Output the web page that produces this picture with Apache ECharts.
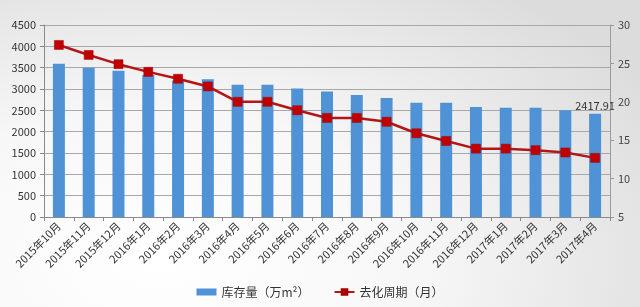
<!DOCTYPE html>
<html><head><meta charset="utf-8">
<script src="https://cdn.jsdelivr.net/npm/echarts@6/dist/echarts.min.js"></script>
<style>
html,body{margin:0;padding:0;}
#c{width:640px;height:307px;background:radial-gradient(ellipse 90% 110% at 25% 85%, #ffffff 0%, #f7f7f7 45%, #dcdcdc 100%);}
</style></head><body>
<div id="c"></div>
<script>
const categories = ['2015年10月','2015年11月','2015年12月','2016年1月','2016年2月','2016年3月','2016年4月','2016年5月','2016年6月','2016年7月','2016年8月','2016年9月','2016年10月','2016年11月','2016年12月','2017年1月','2017年2月','2017年3月','2017年4月'];
const inventory = [3590, 3500, 3430, 3330, 3200, 3230, 3100, 3100, 3010, 2940, 2860, 2790, 2680, 2680, 2580, 2560, 2560, 2500, 2417.91];
const cycle = [27.4, 26.1, 24.9, 23.9, 23.0, 22.0, 20.0, 20.0, 18.9, 17.9, 17.9, 17.4, 15.9, 14.9, 13.9, 13.9, 13.7, 13.4, 12.7];
const leftTicks = {min: 0, max: 4500, interval: 500};
const rightTicks = {min: 5, max: 30, interval: 5};
const seriesNames = ['库存量（万m²）', '去化周期（月）'];

const chart = echarts.init(document.getElementById('c'), null, {renderer: 'canvas'});
const font = '"Noto Sans CJK SC", "Noto Sans", sans-serif';
const lastIdx = inventory.length - 1;
chart.setOption({
  backgroundColor: 'transparent',
  textStyle: {fontFamily: font},
  grid: {left: 44, right: 30, top: 25, bottom: 90, containLabel: false},
  legend: {
    bottom: 4, left: 'center', itemGap: 24, itemWidth: 20, itemHeight: 7,
    textStyle: {color: '#333', fontSize: 12, fontFamily: font},
    data: [{name: seriesNames[0], icon: 'rect'}, {name: seriesNames[1]}]
  },
  xAxis: {
    type: 'category', data: categories, boundaryGap: true,
    axisLine: {lineStyle: {color: '#8a8a8a'}},
    axisTick: {show: true, alignWithLabel: false, lineStyle: {color: '#8a8a8a'}, length: 4},
    axisLabel: {rotate: 45, interval: 0, fontSize: 11, color: '#333', margin: 7, fontFamily: font}
  },
  yAxis: [{
    type: 'value', min: leftTicks.min, max: leftTicks.max, interval: leftTicks.interval,
    axisLine: {show: true, lineStyle: {color: '#8a8a8a'}},
    axisTick: {show: true, length: 4, lineStyle: {color: '#8a8a8a'}},
    axisLabel: {fontSize: 11, color: '#333', margin: 8, formatter: v => String(v)},
    splitLine: {show: true, lineStyle: {color: '#a8a8a8', width: 1}}
  }, {
    type: 'value', min: rightTicks.min, max: rightTicks.max, interval: rightTicks.interval,
    position: 'right',
    axisLine: {show: true, lineStyle: {color: '#9a9a9a'}},
    axisTick: {show: true, length: 4, lineStyle: {color: '#9a9a9a'}},
    axisLabel: {fontSize: 11, color: '#444', margin: 8, formatter: v => String(v)},
    splitLine: {show: false}
  }],
  series: [{
    name: seriesNames[0], type: 'bar', yAxisIndex: 0, data: inventory.map((v, i) => i === lastIdx ? {value: v, label: {show: true, position: 'top', distance: 3, color: '#333', fontSize: 11, formatter: '{c}'}} : v),
    barWidth: 12,
    itemStyle: {color: '#4f93d6'},
    z: 2
  }, {
    name: seriesNames[1], type: 'line', yAxisIndex: 1, data: cycle,
    symbol: 'rect', symbolSize: 9,
    lineStyle: {color: '#b31616', width: 2.5},
    itemStyle: {color: '#c00000', borderColor: '#a00000', borderWidth: 0.5},
    z: 3
  }]
});
</script>
</body></html>
